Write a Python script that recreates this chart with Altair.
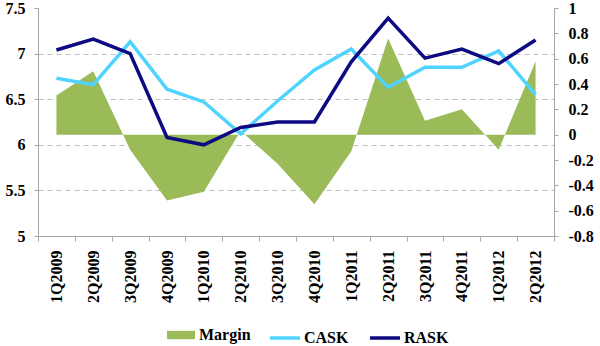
import altair as alt
import pandas as pd

quarters = ["1Q2009", "2Q2009", "3Q2009", "4Q2009", "1Q2010", "2Q2010", "3Q2010",
            "4Q2010", "1Q2011", "2Q2011", "3Q2011", "4Q2011", "1Q2012", "2Q2012"]
margin = [0.31, 0.50, -0.12, -0.52, -0.45, 0.03, -0.23, -0.55, -0.13, 0.76, 0.11, 0.20, -0.12, 0.58]
cask = [6.73, 6.66, 7.13, 6.61, 6.47, 6.12, 6.48, 6.82, 7.05, 6.63, 6.85, 6.85, 7.03, 6.55]
rask = [7.04, 7.16, 7.00, 6.08, 6.00, 6.19, 6.25, 6.25, 6.91, 7.39, 6.95, 7.05, 6.89, 7.15]
left_ticks = [5, 5.5, 6, 6.5, 7, 7.5]
right_ticks = [-0.8, -0.6, -0.4, -0.2, 0, 0.2, 0.4, 0.6, 0.8, 1]

margin_df = pd.DataFrame({"quarter": quarters, "value": margin, "series": ["Margin"] * len(quarters)})
lines_df = pd.DataFrame({
    "quarter": quarters * 2,
    "value": cask + rask,
    "series": ["CASK"] * len(quarters) + ["RASK"] * len(quarters),
})

FONT = "serif"
AXIS_COLOR = "#A6A6A6"
GREEN = "#9BBB59"
CYAN = "#4FD3FF"
NAVY = "#0E0A82"

x_enc = alt.X(
    "quarter:N",
    sort=quarters,
    bandPosition=0.5,
    scale=alt.Scale(type="band", paddingInner=0, paddingOuter=0),
    axis=alt.Axis(
        title=None, labelAngle=-90, labelAlign="right", labelBaseline="middle",
        tickBand="extent", tickSize=5, labelPadding=9, labelFontSize=16,
        domainColor=AXIS_COLOR, tickColor=AXIS_COLOR, grid=False,
    ),
)

area = alt.Chart(margin_df).mark_area(opacity=1).encode(
    x=x_enc,
    y=alt.Y(
        "value:Q",
        scale=alt.Scale(domain=[-0.8, 1], nice=False, zero=False),
        axis=alt.Axis(
            orient="right", values=right_ticks, title=None, grid=False,
            labelExpr="'' + round(datum.value * 10) / 10",
            tickSize=4, labelPadding=10, labelAlign="left",
        ),
    ),
    y2=alt.datum(0),
    fill=alt.Fill(
        "series:N",
        scale=alt.Scale(domain=["Margin"], range=[GREEN]),
        legend=alt.Legend(
            orient="none", legendX=129, legendY=313, title=None,
            symbolType="M-1,-0.3H1V0.3H-1Z", symbolSize=784, symbolStrokeWidth=0,
            labelOffset=4,
        ),
    ),
)

lines = alt.Chart(lines_df).mark_line(strokeWidth=3.5).encode(
    x=x_enc,
    y=alt.Y(
        "value:Q",
        scale=alt.Scale(domain=[5, 7.5], nice=False, zero=False),
        axis=alt.Axis(
            orient="left", values=left_ticks, title=None, grid=True,
            gridDash=[5, 4], gridColor="#BFBFBF",
            gridOpacity={"condition": {"test": "datum.value <= 5 || datum.value >= 7.5", "value": 0}, "value": 1},
            labelExpr="'' + round(datum.value * 10) / 10",
            tickSize=4, labelPadding=9,
        ),
    ),
    stroke=alt.Stroke(
        "series:N",
        scale=alt.Scale(domain=["CASK", "RASK"], range=[CYAN, NAVY]),
        legend=alt.Legend(
            orient="none", direction="horizontal", legendX=230, legendY=313, title=None,
            symbolType="stroke", symbolSize=900, symbolStrokeWidth=3.5,
            labelOffset=2, columnPadding=14,
        ),
    ),
)

chart = alt.layer(area, lines).resolve_scale(y="independent").properties(
    width=516,
    height=228,
    autosize=alt.AutoSizeParams(type="none"),
    padding={"left": 38, "top": 8, "right": 46, "bottom": 110},
).configure_view(stroke=None).configure_axis(
    labelFont=FONT, labelFontWeight="bold", labelFontSize=16, labelColor="black",
    domainColor=AXIS_COLOR, tickColor=AXIS_COLOR,
).configure_legend(
    labelFont=FONT, labelFontWeight="bold", labelFontSize=16, labelColor="black",
    padding=0, labelLimit=200,
)

chart.save("out.html", embed_options={"renderer": "svg", "actions": False})
